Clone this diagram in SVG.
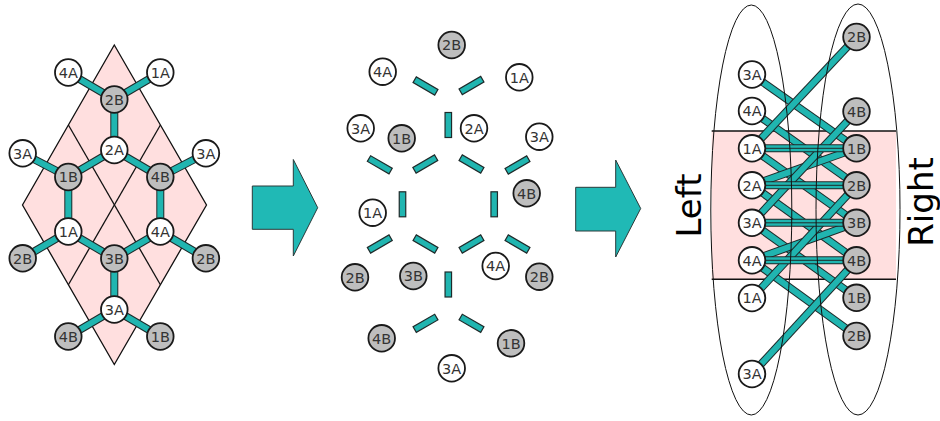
<svg xmlns="http://www.w3.org/2000/svg" width="940" height="421" viewBox="0 0 940 421">
<style>
.bg{fill:#fff}
.w{fill:#fff;stroke:#1a1a1a;stroke-width:1.8}
.g{fill:#bebebe;stroke:#1a1a1a;stroke-width:1.8}
.t{font-family:"DejaVu Sans",sans-serif;font-size:14.5px;fill:#333;text-anchor:middle}
.big{font-family:"DejaVu Sans",sans-serif;font-size:34px;fill:#000;text-anchor:middle}
.o{stroke:#1e2a2a;stroke-width:8;fill:none}
.f{stroke:#20b5b0;stroke-width:6;fill:none}
.mid{stroke:#1e2a2a;stroke-width:1}
.mb{fill:#20b5b0;stroke:#1e2a2a;stroke-width:1.2}
.arr{fill:#20b9b5;stroke:#2a3a3a;stroke-width:1}
.pink{fill:#ffdfdf}
.thin{stroke:#111;stroke-width:1.3;fill:none}
</style>
<rect class="bg" x="0" y="0" width="940" height="421"/>

<!-- Left panel: lattice rhombus -->
<g id="left-lattice">
<polygon points="114.3,45 206.5,205 114.3,364.5 22.5,205" class="pink" stroke="#111" stroke-width="1.3"/>
<line class="thin" x1="68.4" y1="125" x2="160.4" y2="284.75"/>
<line class="thin" x1="160.4" y1="125" x2="68.4" y2="284.75"/>
</g>

<g id="connectors">
<!-- left panel bonds -->
<line class="o" x1="68.3" y1="72.5" x2="114.3" y2="99.5"/><line class="f" x1="68.3" y1="72.5" x2="114.3" y2="99.5"/>
<line class="o" x1="160.3" y1="72.5" x2="114.3" y2="99.5"/><line class="f" x1="160.3" y1="72.5" x2="114.3" y2="99.5"/>
<line class="o" x1="114.3" y1="99.5" x2="114.3" y2="150"/><line class="f" x1="114.3" y1="99.5" x2="114.3" y2="150"/>
<line class="o" x1="22.7" y1="153.3" x2="68.3" y2="177"/><line class="f" x1="22.7" y1="153.3" x2="68.3" y2="177"/>
<line class="o" x1="114.3" y1="150" x2="68.3" y2="177"/><line class="f" x1="114.3" y1="150" x2="68.3" y2="177"/>
<line class="o" x1="114.3" y1="150" x2="160.3" y2="177"/><line class="f" x1="114.3" y1="150" x2="160.3" y2="177"/>
<line class="o" x1="160.3" y1="177" x2="205.9" y2="153.3"/><line class="f" x1="160.3" y1="177" x2="205.9" y2="153.3"/>
<line class="o" x1="68.3" y1="177" x2="68.3" y2="231.5"/><line class="f" x1="68.3" y1="177" x2="68.3" y2="231.5"/>
<line class="o" x1="160.3" y1="177" x2="160.3" y2="231.5"/><line class="f" x1="160.3" y1="177" x2="160.3" y2="231.5"/>
<line class="o" x1="68.3" y1="231.5" x2="22.7" y2="258.3"/><line class="f" x1="68.3" y1="231.5" x2="22.7" y2="258.3"/>
<line class="o" x1="68.3" y1="231.5" x2="114.3" y2="258.5"/><line class="f" x1="68.3" y1="231.5" x2="114.3" y2="258.5"/>
<line class="o" x1="160.3" y1="231.5" x2="114.3" y2="258.5"/><line class="f" x1="160.3" y1="231.5" x2="114.3" y2="258.5"/>
<line class="o" x1="160.3" y1="231.5" x2="205.9" y2="258.3"/><line class="f" x1="160.3" y1="231.5" x2="205.9" y2="258.3"/>
<line class="o" x1="114.3" y1="258.5" x2="114.3" y2="309.5"/><line class="f" x1="114.3" y1="258.5" x2="114.3" y2="309.5"/>
<line class="o" x1="114.3" y1="309.5" x2="68.3" y2="336.5"/><line class="f" x1="114.3" y1="309.5" x2="68.3" y2="336.5"/>
<line class="o" x1="114.3" y1="309.5" x2="160.3" y2="336.5"/><line class="f" x1="114.3" y1="309.5" x2="160.3" y2="336.5"/>
</g>

<!-- Middle panel: separated bonds -->
<g id="mid-bonds">
<rect class="mb" x="-12.5" y="-3.25" width="25" height="6.5" transform="translate(425.5,86) rotate(30)"/>
<rect class="mb" x="-12.5" y="-3.25" width="25" height="6.5" transform="translate(471.5,85.5) rotate(-30)"/>
<rect class="mb" x="-12.5" y="-3.25" width="25" height="6.5" transform="translate(448.3,125) rotate(90)"/>
<rect class="mb" x="-12.5" y="-3.25" width="25" height="6.5" transform="translate(379.8,164.8) rotate(30)"/>
<rect class="mb" x="-12.5" y="-3.25" width="25" height="6.5" transform="translate(425.3,164) rotate(-30)"/>
<rect class="mb" x="-12.5" y="-3.25" width="25" height="6.5" transform="translate(471.5,164) rotate(30)"/>
<rect class="mb" x="-12.5" y="-3.25" width="25" height="6.5" transform="translate(517.5,165) rotate(-30)"/>
<rect class="mb" x="-12.5" y="-3.25" width="25" height="6.5" transform="translate(402.5,204.3) rotate(90)"/>
<rect class="mb" x="-12.5" y="-3.25" width="25" height="6.5" transform="translate(494.2,204.3) rotate(90)"/>
<rect class="mb" x="-12.5" y="-3.25" width="25" height="6.5" transform="translate(379.8,244) rotate(-30)"/>
<rect class="mb" x="-12.5" y="-3.25" width="25" height="6.5" transform="translate(425.5,244) rotate(30)"/>
<rect class="mb" x="-12.5" y="-3.25" width="25" height="6.5" transform="translate(471.5,244) rotate(-30)"/>
<rect class="mb" x="-12.5" y="-3.25" width="25" height="6.5" transform="translate(517.5,244) rotate(30)"/>
<rect class="mb" x="-12.5" y="-3.25" width="25" height="6.5" transform="translate(448.3,284.5) rotate(90)"/>
<rect class="mb" x="-12.5" y="-3.25" width="25" height="6.5" transform="translate(425.5,323.3) rotate(-30)"/>
<rect class="mb" x="-12.5" y="-3.25" width="25" height="6.5" transform="translate(471.5,323.3) rotate(30)"/>
</g>

<!-- Arrows -->
<g id="arrow1"><polygon class="arr" points="252.3,186 293.3,186 293.3,159.5 317.7,207.7 293.3,256 293.3,229.3 252.3,229.3"/></g>
<g id="arrow2"><polygon class="arr" points="575.7,187.3 615.7,187.3 615.7,160 640.7,208.5 615.7,257 615.7,231 575.7,231"/></g>

<!-- Right panel -->
<g id="right-band">
<rect class="pink" x="711.7" y="131" width="184.3" height="148.3"/>
<line x1="711.7" y1="131" x2="896" y2="131" stroke="#111" stroke-width="1.5"/>
<line x1="711.7" y1="279.3" x2="896" y2="279.3" stroke="#111" stroke-width="1.5"/>
</g>
<g id="connectors-right">
<line class="o" x1="752" y1="74.5" x2="856.5" y2="148.3"/><line class="f" x1="752" y1="74.5" x2="856.5" y2="148.3"/>
<line class="o" x1="752" y1="111" x2="856.5" y2="185.3"/><line class="f" x1="752" y1="111" x2="856.5" y2="185.3"/>
<line class="o" x1="752" y1="148.3" x2="856.5" y2="37"/><line class="f" x1="752" y1="148.3" x2="856.5" y2="37"/>
<line class="o" x1="752" y1="148.3" x2="856.5" y2="222.8"/><line class="f" x1="752" y1="148.3" x2="856.5" y2="222.8"/>
<line class="o" x1="752" y1="185.3" x2="856.5" y2="148.3"/><line class="f" x1="752" y1="185.3" x2="856.5" y2="148.3"/>
<line class="o" x1="752" y1="185.3" x2="856.5" y2="260.3"/><line class="f" x1="752" y1="185.3" x2="856.5" y2="260.3"/>
<line class="o" x1="752" y1="222.8" x2="856.5" y2="111.5"/><line class="f" x1="752" y1="222.8" x2="856.5" y2="111.5"/>
<line class="o" x1="752" y1="222.8" x2="856.5" y2="297.8"/><line class="f" x1="752" y1="222.8" x2="856.5" y2="297.8"/>
<line class="o" x1="752" y1="260.3" x2="856.5" y2="222.8"/><line class="f" x1="752" y1="260.3" x2="856.5" y2="222.8"/>
<line class="o" x1="752" y1="260.3" x2="856.5" y2="336"/><line class="f" x1="752" y1="260.3" x2="856.5" y2="336"/>
<line class="o" x1="752" y1="298" x2="856.5" y2="185.3"/><line class="f" x1="752" y1="298" x2="856.5" y2="185.3"/>
<line class="o" x1="752" y1="374" x2="856.5" y2="260.3"/><line class="f" x1="752" y1="374" x2="856.5" y2="260.3"/>
<line class="o" x1="752" y1="148.3" x2="856.5" y2="148.3"/><line class="f" x1="752" y1="148.3" x2="856.5" y2="148.3"/><line class="mid" x1="752" y1="148.3" x2="856.5" y2="148.3"/>
<line class="o" x1="752" y1="185.3" x2="856.5" y2="185.3"/><line class="f" x1="752" y1="185.3" x2="856.5" y2="185.3"/><line class="mid" x1="752" y1="185.3" x2="856.5" y2="185.3"/>
<line class="o" x1="752" y1="222.8" x2="856.5" y2="222.8"/><line class="f" x1="752" y1="222.8" x2="856.5" y2="222.8"/><line class="mid" x1="752" y1="222.8" x2="856.5" y2="222.8"/>
<line class="o" x1="752" y1="260.3" x2="856.5" y2="260.3"/><line class="f" x1="752" y1="260.3" x2="856.5" y2="260.3"/><line class="mid" x1="752" y1="260.3" x2="856.5" y2="260.3"/>
</g>
<g id="ellipses">
<ellipse cx="751.3" cy="210" rx="40.5" ry="205" fill="none" stroke="#111" stroke-width="1"/>
<ellipse cx="858" cy="209.5" rx="42" ry="205.5" fill="none" stroke="#111" stroke-width="1"/>
</g>
<g id="label-left"><text class="big" transform="translate(701,205.5) rotate(-90)">Left</text></g>
<g id="label-right"><text class="big" transform="translate(933,202) rotate(-90)">Right</text></g>

<!-- Left panel nodes -->
<g id="lp-4A-t"><circle class="w" cx="68.3" cy="72.5" r="13.3"/><text class="t" x="68.3" y="77.8">4A</text></g>
<g id="lp-1A-t"><circle class="w" cx="160.3" cy="72.5" r="13.3"/><text class="t" x="160.3" y="77.8">1A</text></g>
<g id="lp-2B"><circle class="g" cx="114.3" cy="99.5" r="13.3"/><text class="t" x="114.3" y="104.8">2B</text></g>
<g id="lp-2A"><circle class="w" cx="114.3" cy="150" r="13.3"/><text class="t" x="114.3" y="155.3">2A</text></g>
<g id="lp-3A-l"><circle class="w" cx="22.7" cy="153.3" r="13.3"/><text class="t" x="22.7" y="158.6">3A</text></g>
<g id="lp-1B"><circle class="g" cx="68.3" cy="177" r="13.3"/><text class="t" x="68.3" y="182.3">1B</text></g>
<g id="lp-4B"><circle class="g" cx="160.3" cy="177" r="13.3"/><text class="t" x="160.3" y="182.3">4B</text></g>
<g id="lp-3A-r"><circle class="w" cx="205.9" cy="153.3" r="13.3"/><text class="t" x="205.9" y="158.6">3A</text></g>
<g id="lp-1A"><circle class="w" cx="68.3" cy="231.5" r="13.3"/><text class="t" x="68.3" y="236.8">1A</text></g>
<g id="lp-4A"><circle class="w" cx="160.3" cy="231.5" r="13.3"/><text class="t" x="160.3" y="236.8">4A</text></g>
<g id="lp-2B-l"><circle class="g" cx="22.7" cy="258.3" r="13.3"/><text class="t" x="22.7" y="263.6">2B</text></g>
<g id="lp-3B"><circle class="g" cx="114.3" cy="258.5" r="13.3"/><text class="t" x="114.3" y="263.8">3B</text></g>
<g id="lp-2B-r"><circle class="g" cx="205.9" cy="258.3" r="13.3"/><text class="t" x="205.9" y="263.6">2B</text></g>
<g id="lp-3A-b"><circle class="w" cx="114.3" cy="309.5" r="13.3"/><text class="t" x="114.3" y="314.8">3A</text></g>
<g id="lp-4B-b"><circle class="g" cx="68.3" cy="336.5" r="13.3"/><text class="t" x="68.3" y="341.8">4B</text></g>
<g id="lp-1B-b"><circle class="g" cx="160.3" cy="336.5" r="13.3"/><text class="t" x="160.3" y="341.8">1B</text></g>

<!-- Middle panel nodes -->
<g id="mp-2B"><circle class="g" cx="451.7" cy="45" r="13.3"/><text class="t" x="451.7" y="50.3">2B</text></g>
<g id="mp-4A-t"><circle class="w" cx="382.7" cy="71.7" r="13.3"/><text class="t" x="382.7" y="77">4A</text></g>
<g id="mp-1A-t"><circle class="w" cx="519.3" cy="77.3" r="13.3"/><text class="t" x="519.3" y="82.6">1A</text></g>
<g id="mp-3A-l"><circle class="w" cx="360.7" cy="128.3" r="13.3"/><text class="t" x="360.7" y="133.6">3A</text></g>
<g id="mp-1B"><circle class="g" cx="401.7" cy="138.3" r="13.3"/><text class="t" x="401.7" y="143.6">1B</text></g>
<g id="mp-2A"><circle class="w" cx="474" cy="128.3" r="13.3"/><text class="t" x="474" y="133.6">2A</text></g>
<g id="mp-3A-r"><circle class="w" cx="539.3" cy="136.7" r="13.3"/><text class="t" x="539.3" y="142">3A</text></g>
<g id="mp-4B"><circle class="g" cx="526.7" cy="193.3" r="13.3"/><text class="t" x="526.7" y="198.6">4B</text></g>
<g id="mp-1A"><circle class="w" cx="372.7" cy="212.7" r="13.3"/><text class="t" x="372.7" y="218">1A</text></g>
<g id="mp-2B-l"><circle class="g" cx="355" cy="277.3" r="13.3"/><text class="t" x="355" y="282.6">2B</text></g>
<g id="mp-3B"><circle class="g" cx="413.3" cy="276" r="13.3"/><text class="t" x="413.3" y="281.3">3B</text></g>
<g id="mp-4A"><circle class="w" cx="495.7" cy="266" r="13.3"/><text class="t" x="495.7" y="271.3">4A</text></g>
<g id="mp-2B-r"><circle class="g" cx="539.3" cy="276.7" r="13.3"/><text class="t" x="539.3" y="282">2B</text></g>
<g id="mp-4B-b"><circle class="g" cx="381.7" cy="338.3" r="13.3"/><text class="t" x="381.7" y="343.6">4B</text></g>
<g id="mp-1B-b"><circle class="g" cx="511" cy="343.3" r="13.3"/><text class="t" x="511" y="348.6">1B</text></g>
<g id="mp-3A-b"><circle class="w" cx="451.7" cy="368.3" r="13.3"/><text class="t" x="451.7" y="373.6">3A</text></g>

<!-- Right panel nodes -->
<g id="rl-3A-t"><circle class="w" cx="752" cy="74.5" r="13.3"/><text class="t" x="752" y="79.8">3A</text></g>
<g id="rl-4A-t"><circle class="w" cx="752" cy="111" r="13.3"/><text class="t" x="752" y="116.3">4A</text></g>
<g id="rl-1A"><circle class="w" cx="752" cy="148.3" r="13.3"/><text class="t" x="752" y="153.6">1A</text></g>
<g id="rl-2A"><circle class="w" cx="752" cy="185.3" r="13.3"/><text class="t" x="752" y="190.6">2A</text></g>
<g id="rl-3A"><circle class="w" cx="752" cy="222.8" r="13.3"/><text class="t" x="752" y="228.1">3A</text></g>
<g id="rl-4A"><circle class="w" cx="752" cy="260.3" r="13.3"/><text class="t" x="752" y="265.6">4A</text></g>
<g id="rl-1A-b"><circle class="w" cx="752" cy="298" r="13.3"/><text class="t" x="752" y="303.3">1A</text></g>
<g id="rl-3A-b"><circle class="w" cx="752" cy="374" r="13.3"/><text class="t" x="752" y="379.3">3A</text></g>
<g id="rr-2B-t"><circle class="g" cx="856.5" cy="37" r="13.3"/><text class="t" x="856.5" y="42.3">2B</text></g>
<g id="rr-4B-t"><circle class="g" cx="856.5" cy="111.5" r="13.3"/><text class="t" x="856.5" y="116.8">4B</text></g>
<g id="rr-1B"><circle class="g" cx="856.5" cy="148.3" r="13.3"/><text class="t" x="856.5" y="153.6">1B</text></g>
<g id="rr-2B"><circle class="g" cx="856.5" cy="185.3" r="13.3"/><text class="t" x="856.5" y="190.6">2B</text></g>
<g id="rr-3B"><circle class="g" cx="856.5" cy="222.8" r="13.3"/><text class="t" x="856.5" y="228.1">3B</text></g>
<g id="rr-4B"><circle class="g" cx="856.5" cy="260.3" r="13.3"/><text class="t" x="856.5" y="265.6">4B</text></g>
<g id="rr-1B-b"><circle class="g" cx="856.5" cy="297.8" r="13.3"/><text class="t" x="856.5" y="303.1">1B</text></g>
<g id="rr-2B-b"><circle class="g" cx="856.5" cy="336" r="13.3"/><text class="t" x="856.5" y="341.3">2B</text></g>
</svg>
